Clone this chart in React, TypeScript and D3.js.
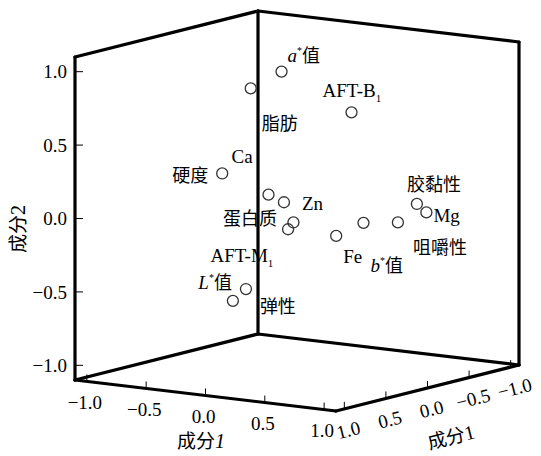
import React from 'react'
import * as d3 from 'd3'

// loadings
const labels = ['a*值', '脂肪', 'AFT-B1', '硬度', 'Ca', 'Zn', 'AFT-M1', '蛋白质', 'Fe', 'b*值', '咀嚼性', '胶黏性', 'Mg', 'L*值', '弹性']
const pc1 = [0.08, -0.25, 0.74, -0.28, -0.1, -0.04, 0.04, 0.03, 0.19, 0.35, 0.57, 0.66, 0.74, -0.22, -0.26]
const pc2 = [1.0, 0.84, 0.8, 0.3, 0.13, 0.07, -0.06, -0.1, -0.18, -0.09, -0.08, 0.04, -0.01, -0.51, -0.58]
const pc3 = [0.3, 0.2, 0.4, 0.5, 0.2, 0.1, 0.1, 0.15, -0.2, -0.3, -0.4, -0.5, -0.5, 0.3, 0.4]
const tickValues = [-1, -0.5, 0, 0.5, 1]

// label placement relative to the marker
const labelPos: Record<string, { dx: number; dy: number; anchor?: string }> = {
    'a*值': { dx: 6, dy: -10 },
    '脂肪': { dx: 11, dy: 42 },
    'AFT-B1': { dx: -29, dy: -15 },
    '硬度': { dx: -14, dy: 9, anchor: 'end' },
    'Ca': { dx: -37, dy: -32 },
    'Zn': { dx: 18, dy: 8 },
    'AFT-M1': { dx: -83, dy: 40 },
    '蛋白质': { dx: -11, dy: -4, anchor: 'end' },
    'Fe': { dx: 7, dy: 27 },
    'b*值': { dx: 7, dy: 49 },
    '咀嚼性': { dx: 15, dy: 32 },
    '胶黏性': { dx: -10, dy: -13 },
    'Mg': { dx: 7, dy: 10 },
    'L*值': { dx: -14, dy: 0, anchor: 'end' },
    '弹性': { dx: 27, dy: 12 },
}

const W = 541
const H = 456
const FONT = "'Liberation Serif', 'Times New Roman', 'Noto Sans CJK SC', serif"
const CJK = "'Noto Sans CJK SC', sans-serif"

// oblique projection of the cube
const origin = [258, 334] // back-bottom corner
const sA = d3.scaleLinear().domain([-1.1, 1.1]).range([0, 1])
const vecA = [261, 31]
const vecC = [-183, 46]
const height = 323

const project = (a: number, y: number, c: number): [number, number] => {
    const u = sA(a), v = sA(c), w = sA(y)
    return [
        origin[0] + vecA[0] * u + vecC[0] * v,
        origin[1] + vecA[1] * u + vecC[1] * v - height * w,
    ]
}

const fmt = d3.format('.1f')

const Label = ({ text }: { text: string }) => {
    const star = text.match(/^([abL])\*(.*)$/)
    if (star) {
        return (
            <>
                <tspan fontStyle='italic'>{star[1]}</tspan>
                <tspan fontSize={10} dy={-8}>*</tspan>
                <tspan dy={8} fontFamily={CJK} fontSize={18}>{star[2]}</tspan>
            </>
        )
    }
    const sub = text.match(/^(AFT-[BM])1$/)
    if (sub) {
        return (
            <>
                <tspan>{sub[1]}</tspan>
                <tspan fontSize={11} dy={5}>1</tspan>
            </>
        )
    }
    if (/[\u4e00-\u9fff]/.test(text)) return <tspan fontFamily={CJK} fontSize={18}>{text}</tspan>
    return <tspan>{text}</tspan>
}

const Box = () => {
    const L0 = project(-1.1, -1.1, 1.1)
    const L1 = project(-1.1, 1.1, 1.1)
    const B0 = project(-1.1, -1.1, -1.1)
    const B1 = project(-1.1, 1.1, -1.1)
    const R0 = project(1.1, -1.1, -1.1)
    const R1 = project(1.1, 1.1, -1.1)
    const F0 = project(1.1, -1.1, 1.1)
    const edges = [
        [L0, F0], [F0, R0], [R0, R1], [R1, B1], [B1, L1],
        [L1, L0], [B1, B0], [B0, L0], [B0, R0],
    ]
    return (
        <g stroke='#000' strokeWidth={3.2} strokeLinecap='round'>
            {edges.map((e, i) => (
                <line key={i} x1={e[0][0]} y1={e[0][1]} x2={e[1][0]} y2={e[1][1]} />
            ))}
        </g>
    )
}

const Axes = () => (
    <g fontFamily={FONT} fontSize={19} fill='#000'>
        {/* vertical axis */}
        {tickValues.map(t => {
            const p = project(-1.1, t, 1.1)
            return (
                <g key={'y' + t}>
                    <line x1={p[0]} y1={p[1]} x2={p[0] + 8} y2={p[1]} stroke='#000' strokeWidth={1} />
                    <text x={p[0] - 8} y={p[1]} dy='0.35em' textAnchor='end'>{fmt(t)}</text>
                </g>
            )
        })}
        {/* front-left axis */}
        {tickValues.map(t => {
            const p = project(t, -1.1, 1.1)
            return (
                <g key={'a' + t}>
                    <line x1={p[0]} y1={p[1]} x2={p[0]} y2={p[1] - 7} stroke='#000' strokeWidth={1} />
                    <text x={p[0] - 2} y={p[1] + 21} dy='0.35em' textAnchor='middle'>{fmt(t)}</text>
                </g>
            )
        })}
        {/* front-right axis */}
        {tickValues.map(t => {
            const p = project(1.1, -1.1, t)
            return (
                <g key={'c' + t}>
                    <line x1={p[0]} y1={p[1]} x2={p[0]} y2={p[1] - 7} stroke='#000' strokeWidth={1} />
                    <text
                        transform={`translate(${p[0] + 4}, ${p[1] + 21}) rotate(-14)`}
                        dy='0.35em'
                        textAnchor='middle'
                    >
                        {fmt(t)}
                    </text>
                </g>
            )
        })}
        <text transform='translate(18, 229) rotate(-90)' textAnchor='middle' dy='0.35em' fontSize={20}>
            <tspan fontFamily={CJK} fontSize={19}>成分</tspan>2
        </text>
        <text x={201} y={441} textAnchor='middle' dy='0.35em' fontSize={20}>
            <tspan fontFamily={CJK} fontSize={19}>成分</tspan>
            <tspan fontStyle='italic'>1</tspan>
        </text>
        <text transform='translate(451, 437) rotate(-14)' textAnchor='middle' dy='0.35em' fontSize={20}>
            <tspan fontFamily={CJK} fontSize={19}>成分</tspan>1
        </text>
    </g>
)

const App = () => {
    return (
        <svg width={W} height={H} style={{ position: 'absolute', left: 0, top: 0, background: '#fff' }}>
            <Box />
            <Axes />
            <g fontFamily={FONT} fontSize={19} fill='#000'>
                {labels.map((name, i) => {
                    const [x, y] = project(pc1[i], pc2[i], pc3[i])
                    const lp = labelPos[name]
                    return (
                        <g key={name}>
                            <circle cx={x} cy={y} r={5.5} fill='none' stroke='#333' strokeWidth={1.3} />
                            <text x={x + lp.dx} y={y + lp.dy} textAnchor={lp.anchor || 'start'}>
                                <Label text={name} />
                            </text>
                        </g>
                    )
                })}
            </g>
        </svg>
    )
}

export default App
